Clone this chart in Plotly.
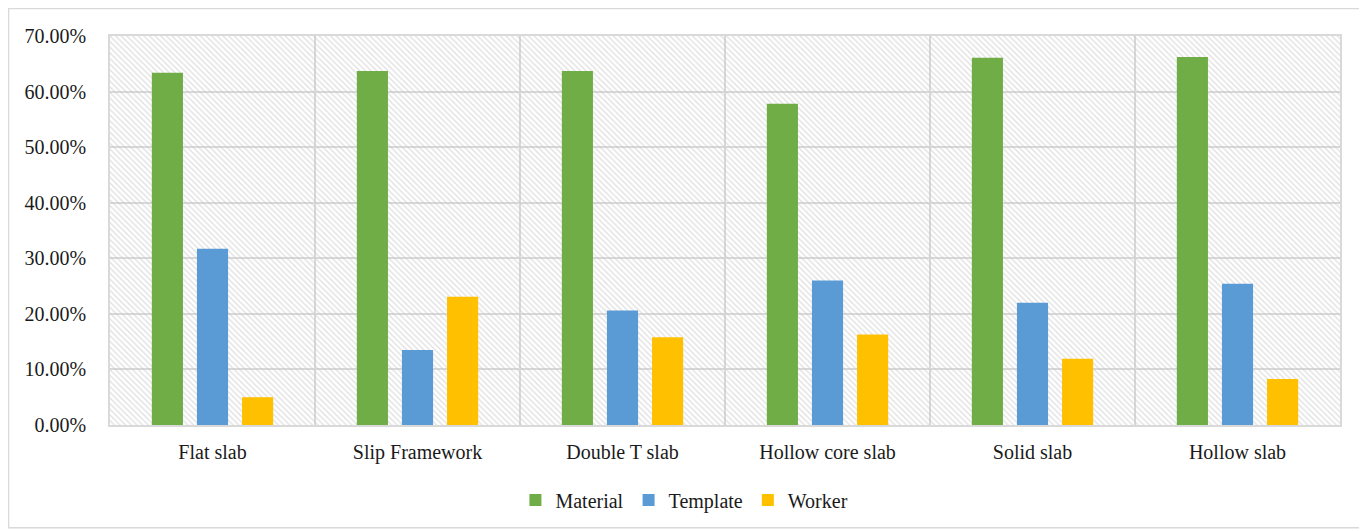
import plotly.graph_objects as go

categories = ["Flat slab", "Slip Framework", "Double T slab", "Hollow core slab", "Solid slab", "Hollow slab"]
material = [0.634, 0.637, 0.637, 0.578, 0.661, 0.662]
template = [0.317, 0.135, 0.206, 0.260, 0.220, 0.254]
worker = [0.050, 0.231, 0.158, 0.163, 0.119, 0.083]
y_ticks = [0.0, 0.1, 0.2, 0.3, 0.4, 0.5, 0.6, 0.7]
y_max = 0.7

FONT = "'Liberation Serif', 'Times New Roman', serif"
GRID = "#d9d9d9"

fig = go.Figure()

# hatched plot-area background (decoration)
fig.add_trace(go.Bar(
    x=categories, y=[y_max] * len(categories), width=1, offset=-0.5,
    marker=dict(color="rgba(0,0,0,0)", line=dict(width=0),
                pattern=dict(shape="\\", fgcolor="#c4c4c4", bgcolor="rgba(0,0,0,0)",
                             size=4, solidity=0.35, fillmode="overlay")),
    showlegend=False, hoverinfo="skip"))

for name, vals, col in [("Material", material, "#70AD47"),
                        ("Template", template, "#5B9BD5"),
                        ("Worker", worker, "#FFC000")]:
    fig.add_trace(go.Bar(x=categories, y=vals, name=name,
                         marker=dict(color=col, line=dict(width=0))))

fig.update_layout(
    width=1359, height=523,
    barmode="group", bargap=0.34, bargroupgap=0.31,
    paper_bgcolor="white", plot_bgcolor="white",
    margin=dict(l=102, r=27, t=28, b=105),
    font=dict(family=FONT, size=20, color="#1a1a1a"),
    legend=dict(orientation="h", x=0.467, xanchor="center", y=-0.19, yanchor="middle",
                font=dict(family=FONT, size=20), itemwidth=30, traceorder="normal"),
    showlegend=True,
)
fig.update_xaxes(
    type="category", tickson="boundaries", showgrid=True, gridcolor=GRID, gridwidth=1.5,
    showline=True, linecolor=GRID, linewidth=1.5, mirror=True,
    ticks="", ticklabelstandoff=8,
    tickfont=dict(family=FONT, size=20),
)
fig.update_yaxes(
    range=[0, y_max], tickvals=y_ticks, tickformat=".2%",
    showgrid=True, gridcolor=GRID, gridwidth=1.5,
    showline=True, linecolor=GRID, linewidth=1.5, mirror=True, zeroline=False,
    ticks="outside", ticklen=18, tickcolor="rgba(0,0,0,0)",
    tickfont=dict(family=FONT, size=20),
)

# outer chart border
fig.add_shape(type="rect", xref="paper", yref="paper",
              x0=-0.0825, x1=1.0195, y0=-0.264, y1=1.0705,
              line=dict(color="#d9d9d9", width=1.5), fillcolor="rgba(0,0,0,0)", layer="below")

fig.write_html("out.html")
